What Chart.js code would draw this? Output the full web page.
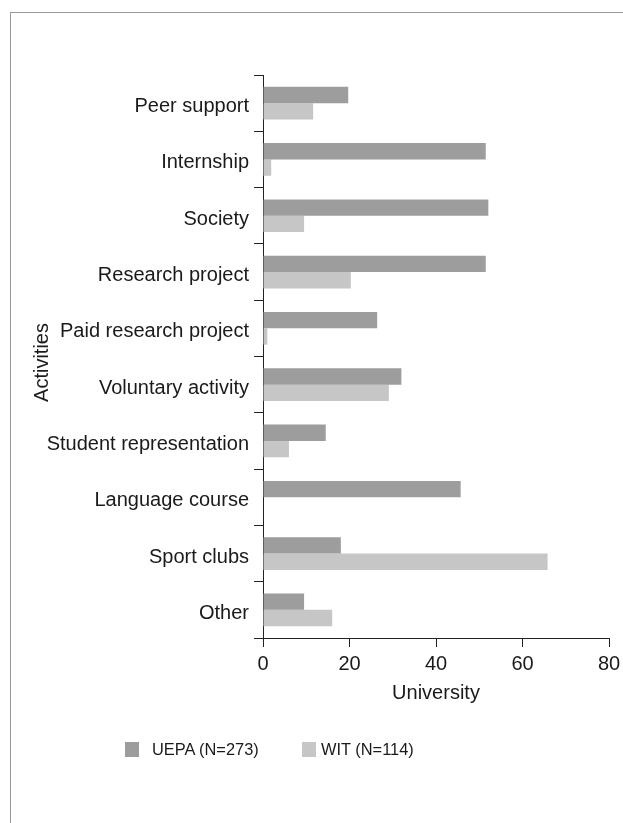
<!DOCTYPE html>
<html>
<head>
<meta charset="utf-8">
<title>Activities by university</title>
<script src="https://cdn.jsdelivr.net/npm/chart.js@4.4.1/dist/chart.umd.min.js"></script>
<style>
  html, body { margin: 0; padding: 0; overflow: hidden; background: #fff; }
  body { width: 623px; height: 823px; position: relative; font-family: "Liberation Sans", Arial, sans-serif; }
  #frame { position: absolute; left: 10px; top: 12px; right: 0; bottom: 0; border-top: 1px solid #999; border-left: 1px solid #999; }
  #chart { position: absolute; left: 0; top: 0; }
  .item { position: absolute; top: 741px; display: flex; align-items: center; font-size: 16.4px; color: #1a1a1a; white-space: nowrap; line-height: 16px; }
  .box { width: 14px; height: 15px; display: inline-block; }
</style>
</head>
<body>
<div id="frame"></div>
<canvas id="chart" width="623" height="823"></canvas>
<div id="legend"></div>
<script>
const activities = [
  "Peer support",
  "Internship",
  "Society",
  "Research project",
  "Paid research project",
  "Voluntary activity",
  "Student representation",
  "Language course",
  "Sport clubs",
  "Other",
];
const uepa = [19.7, 51.5, 52.1, 51.5, 26.4, 32.0, 14.5, 45.7, 18.0, 9.5];
const wit = [11.6, 1.9, 9.5, 20.3, 1.0, 29.1, 6.0, 0, 65.8, 16.0];
const xMin = 0;
const xMax = 80;
const xStep = 20;

const font = { family: '"Liberation Sans", Arial, sans-serif', size: 20 };
const ink = "#1a1a1a";

const ctx = document.getElementById("chart");

// y axis title sits a bit below the middle of the axis in the original
const yTitle = {
  id: "yTitle",
  afterDraw(chart) {
    const c = chart.ctx;
    const area = chart.chartArea;
    c.save();
    c.translate(42.5, (area.top + area.bottom) / 2 + 6);
    c.rotate(-Math.PI / 2);
    c.font = '20px "Liberation Sans", Arial, sans-serif';
    c.fillStyle = ink;
    c.textAlign = "center";
    c.textBaseline = "middle";
    c.fillText("Activities", 0, 0);
    c.restore();
  },
};

const chart = new Chart(ctx, {
  type: "bar",
  data: {
    labels: activities,
    datasets: [
      {
        label: "UEPA (N=273)",
        data: uepa,
        backgroundColor: "#9d9d9d",
        borderWidth: 0,
        categoryPercentage: 0.58,
        barPercentage: 1,
      },
      {
        label: "WIT (N=114)",
        data: wit,
        backgroundColor: "#c6c6c6",
        borderWidth: 0,
        categoryPercentage: 0.58,
        barPercentage: 1,
      },
    ],
  },
  options: {
    indexAxis: "y",
    responsive: false,
    devicePixelRatio: 1,
    animation: false,
    layout: { padding: { top: 75, right: 14, left: 0, bottom: 0 } },
    plugins: {
      legend: { display: false },
      tooltip: { enabled: false },
    },
    scales: {
      x: {
        min: xMin,
        max: xMax,
        ticks: { stepSize: xStep, font: font, color: ink, padding: 5 },
        grid: { drawOnChartArea: false, drawTicks: true, tickLength: 9, color: "#222" },
        border: { color: "#222", width: 1 },
        title: { display: true, text: "University", font: font, color: ink, padding: { top: 0, bottom: 118 } },
        afterFit: (scale) => {
          scale.height = 185;
          scale.paddingRight = 14;
        },
      },
      y: {
        ticks: { font: font, color: ink, padding: 5, labelOffset: 3.5, autoSkip: false },
        grid: { drawOnChartArea: false, drawTicks: true, tickLength: 9, color: "#222", offset: true },
        border: { color: "#222", width: 1 },
        afterFit: (scale) => {
          scale.width = 263;
        },
      },
    },
  },
  plugins: [yTitle],
});

// legend built from the datasets
const legendLeft = [125, 302];
const legendGap = [13, 5];
const $legend = document.getElementById("legend");
chart.data.datasets.forEach((ds, i) => {
  const item = document.createElement("div");
  item.className = "item";
  item.style.left = legendLeft[i] + "px";
  const box = document.createElement("span");
  box.className = "box";
  box.style.background = ds.backgroundColor;
  box.style.marginRight = legendGap[i] + "px";
  const txt = document.createElement("span");
  txt.textContent = ds.label;
  item.appendChild(box);
  item.appendChild(txt);
  $legend.appendChild(item);
});
</script>
</body>
</html>
